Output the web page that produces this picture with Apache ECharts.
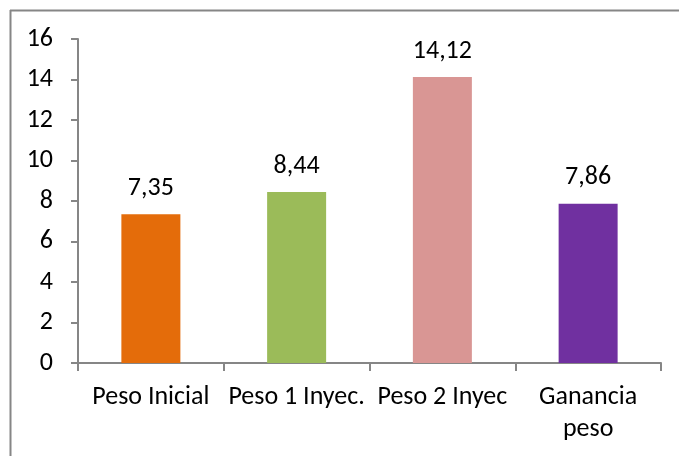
<!DOCTYPE html>
<html>
<head>
<meta charset="utf-8">
<script src="https://cdn.jsdelivr.net/npm/echarts@6/dist/echarts.min.js"></script>
<style>
  html, body { margin: 0; padding: 0; background: #fff; }
  #main { width: 679px; height: 456px; }
</style>
</head>
<body>
<div id="main"></div>
<script>
(function() {
  const categories = ['Peso Inicial', 'Peso 1 Inyec.', 'Peso 2 Inyec', 'Ganancia\npeso'];
  const values = [7.35, 8.44, 14.12, 7.86];
  const barColors = ['#E46C0A', '#9BBB59', '#D99694', '#7030A0'];
  const yTicks = { min: 0, max: 16, interval: 2 };

  const myChart = echarts.init(document.getElementById('main'));
  const font = 'Carlito, "Open Sans", "Liberation Sans", sans-serif';

  const option = {
    animation: false,
    backgroundColor: '#fff',
    graphic: [{
      type: 'line',
      shape: { x1: 10.5, y1: 10, x2: 10.5, y2: 456 },
      style: { stroke: '#868686', lineWidth: 2 },
      silent: true
    }, {
      type: 'line',
      shape: { x1: 10, y1: 10.5, x2: 679, y2: 10.5 },
      style: { stroke: '#868686', lineWidth: 2 },
      silent: true
    }],
    grid: { left: 78, right: 18, top: 39, bottom: 93 },
    xAxis: {
      type: 'category',
      data: categories,
      axisLine: { lineStyle: { color: '#868686', width: 2 } },
      axisTick: { show: true, length: 8, alignWithLabel: false, lineStyle: { color: '#868686', width: 2 } },
      axisLabel: { color: '#000', fontSize: 26, fontFamily: font, margin: 18, lineHeight: 32, interval: 0 }
    },
    yAxis: {
      type: 'value',
      min: yTicks.min,
      max: yTicks.max,
      interval: yTicks.interval,
      splitLine: { show: false },
      axisLine: { show: true, lineStyle: { color: '#868686', width: 2 } },
      axisTick: { show: true, length: 7, lineStyle: { color: '#868686', width: 2 } },
      axisLabel: { color: '#000', fontSize: 26, fontFamily: font, margin: 25 }
    },
    series: [{
      type: 'bar',
      barWidth: 59,
      data: values.map((v, i) => ({ value: v, itemStyle: { color: barColors[i] } })),
      label: {
        show: true,
        position: 'top',
        distance: 13,
        color: '#000',
        fontSize: 26,
        fontFamily: font,
        formatter: p => p.value.toFixed(2).replace('.', ',')
      }
    }]
  };

  myChart.setOption(option);
})();
</script>
</body>
</html>
